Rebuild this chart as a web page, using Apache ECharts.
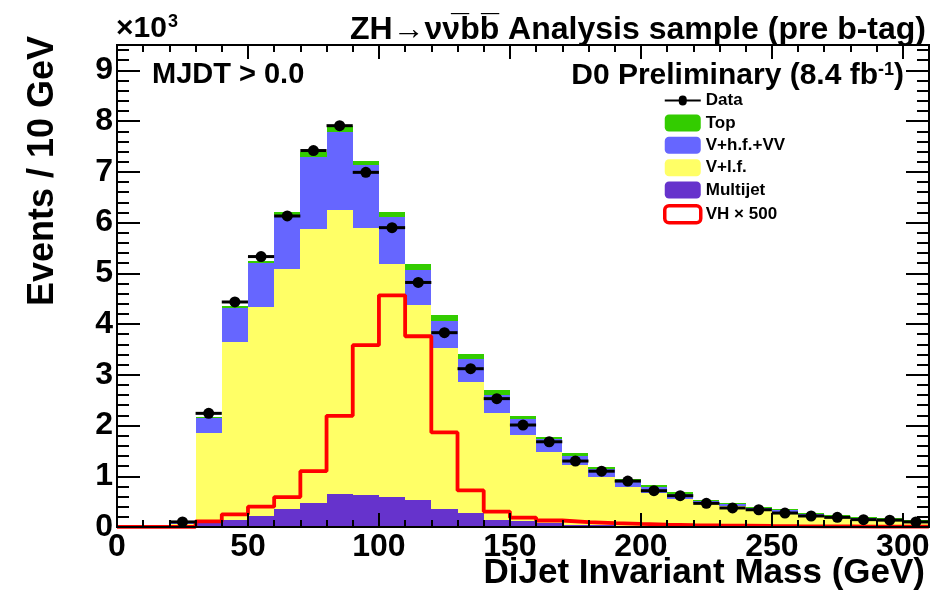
<!DOCTYPE html>
<html><head><meta charset="utf-8">
<script src="https://cdn.jsdelivr.net/npm/echarts@6/dist/echarts.min.js"></script>
<style>html,body{margin:0;padding:0;background:#fff}#c{width:947px;height:590px}</style>
</head><body><div id="c"></div>
<script>
// ---- data (events per 10 GeV bin) ----
const binLow = [0,10,20,30,40,50,60,70,80,90,100,110,120,130,140,150,160,170,180,190,200,210,220,230,240,250,260,270,280,290,300];
const binWidth = 10;
const multijet   = [0,0,5,70,140,210,348,466,650,630,584,531,348,269,145,125,75,45,35,28,22,18,15,12,10,8,7,6,5,4,3];
const vPlusLF    = [0,0,55,1775,3508,4127,4731,5414,5600,5260,4606,3839,3172,2591,2095,1685,1395,1175,945,762,653,542,450,398,330,272,223,194,150,126,102];
const vPlusHFVV  = [0,0,10,295,677,873,1061,1420,1545,1236,920,700,550,447,370,310,256,180,155,135,115,100,45,40,38,50,32,26,27,23,23];
const topQuark   = [0,0,5,20,25,30,70,90,105,94,100,120,100,98,87,65,54,50,40,20,30,20,20,20,17,18,20,17,18,17,17];
const vhTimes500 = [2,2,5,110,250,400,590,1100,2192,3583,4567,3760,1864,720,305,185,128,95,75,60,48,38,30,25,20,16,13,11,9,7,6];
const dataEvents = [null,null,100,2240,4435,5330,6130,7420,7910,6990,5900,4820,3830,3120,2530,2010,1680,1300,1100,905,715,617,466,375,340,275,217,190,145,135,100];
const xMin = 0, xMax = 310, xStep = 50;
const yMin = 0, yMax = 9500, yStep = 1000;

const FONT = "'Liberation Sans', Arial, Helvetica, sans-serif";
const layers = [
  {name: 'Multijet',   values: multijet,  color: '#6633cc'},
  {name: 'V+l.f.',     values: vPlusLF,   color: '#ffff66'},
  {name: 'V+h.f.+VV',  values: vPlusHFVV, color: '#6666ff'},
  {name: 'Top',        values: topQuark,  color: '#33cc00'}
];
// cumulative stacking
const cum = binLow.map(() => 0);
const stackSeries = layers.map(L => {
  const d = binLow.map((x, i) => {
    const lo = cum[i]; cum[i] += L.values[i];
    return [x, x + binWidth, lo, cum[i]];
  });
  return {
    type: 'custom', name: L.name, z: 2,
    data: d, encode: {x: [0, 1], y: [2, 3]},
    itemStyle: {color: L.color},
    renderItem: (params, api) => {
      const a = api.coord([api.value(0), api.value(3)]);
      const b = api.coord([api.value(1), api.value(2)]);
      const x0 = Math.round(a[0]), x1 = Math.round(b[0]);
      const y0 = Math.round(a[1]), y1 = Math.round(b[1]);
      if (y1 - y0 <= 0) return null;
      return {type: 'rect', shape: {x: x0, y: y0, width: x1 - x0, height: y1 - y0},
              style: {fill: L.color}};
    }
  };
});

const vhLine = binLow.map((x, i) => [x, vhTimes500[i]]);
vhLine.push([xMax, vhTimes500[vhTimes500.length - 1]]);

const dataPts = [];
binLow.forEach((x, i) => { if (dataEvents[i] !== null) dataPts.push([x, x + binWidth, dataEvents[i]]); });

const axisCommon = {
  type: 'value', z: 10,
  axisLine: {show: true, onZero: false, lineStyle: {color: '#000', width: 2}},
  splitLine: {show: false}
};

const option = {
  animation: false,
  backgroundColor: '#fff',
  grid: {left: 117, right: 18, top: 45, bottom: 63, containLabel: false, outerBoundsMode: 'none',
         show: true, borderColor: '#000', borderWidth: 2, backgroundColor: 'transparent'},
  xAxis: [
    Object.assign({}, axisCommon, {
      position: 'bottom', min: xMin, max: xMax, interval: xStep,
      axisTick: {show: true, inside: true, length: 14, lineStyle: {color: '#000', width: 2}},
      minorTick: {show: true, splitNumber: 5, length: 7, lineStyle: {color: '#000', width: 2}},
      axisLabel: {show: true, margin: 4, color: '#000', fontSize: 32, fontWeight: 'bold', fontFamily: FONT,
                  showMaxLabel: false}
    }),
    Object.assign({}, axisCommon, {
      position: 'top', min: xMin, max: xMax, interval: xStep,
      axisTick: {show: true, inside: true, length: 14, lineStyle: {color: '#000', width: 2}},
      minorTick: {show: true, splitNumber: 5, length: 7, lineStyle: {color: '#000', width: 2}},
      axisLabel: {show: false}
    })
  ],
  yAxis: [
    Object.assign({}, axisCommon, {
      position: 'left', min: yMin, max: yMax, interval: yStep,
      axisTick: {show: true, inside: true, length: 23, lineStyle: {color: '#000', width: 2}},
      minorTick: {show: true, splitNumber: 5, length: 12, lineStyle: {color: '#000', width: 2}},
      axisLabel: {show: true, margin: 4, color: '#000', fontSize: 32, fontWeight: 'bold', fontFamily: FONT,
                  showMaxLabel: false, formatter: v => String(v / 1000)}
    }),
    Object.assign({}, axisCommon, {
      position: 'right', min: yMin, max: yMax, interval: yStep,
      axisTick: {show: true, inside: true, length: 23, lineStyle: {color: '#000', width: 2}},
      minorTick: {show: true, splitNumber: 5, length: 12, lineStyle: {color: '#000', width: 2}},
      axisLabel: {show: false}
    })
  ],
  legend: {
    orient: 'vertical', left: 663, top: 92, itemWidth: 36, itemHeight: 17, itemGap: 5.4,
    selectedMode: false, padding: 0,
    textStyle: {fontSize: 17, fontWeight: 'bold', fontFamily: FONT, color: '#000', padding: [0, 0, 0, 0]},
    data: [
      {name: 'Data', icon: 'path://M0,4h14a4,4 0 1,1 8,0h14v2h-14a4,4 0 1,1 -8,0h-14z', itemStyle: {color: '#000'}},
      {name: 'Top', icon: 'roundRect', itemStyle: {color: '#33cc00'}},
      {name: 'V+h.f.+VV', icon: 'roundRect', itemStyle: {color: '#6666ff'}},
      {name: 'V+l.f.', icon: 'roundRect', itemStyle: {color: '#ffff66'}},
      {name: 'Multijet', icon: 'roundRect', itemStyle: {color: '#6633cc'}},
      {name: 'VH × 500', icon: 'roundRect', itemStyle: {color: '#ffffff', borderColor: '#ff0000', borderWidth: 3.5}}
    ]
  },
  series: stackSeries.concat([
    {
      type: 'line', name: 'VH × 500', z: 3, data: vhLine, step: 'end', symbol: 'none',
      lineStyle: {color: '#ff0000', width: 3.8}, itemStyle: {color: '#ff0000'}, clip: true
    },
    {
      type: 'custom', name: 'Data', z: 4, data: dataPts, encode: {x: [0, 1], y: 2},
      itemStyle: {color: '#000'},
      renderItem: (params, api) => {
        const a = api.coord([api.value(0), api.value(2)]);
        const b = api.coord([api.value(1), api.value(2)]);
        const cx = (a[0] + b[0]) / 2;
        return {type: 'group', children: [
          {type: 'line', shape: {x1: a[0], y1: a[1], x2: b[0], y2: b[1]}, style: {stroke: '#000', lineWidth: 3}},
          {type: 'circle', shape: {cx: cx, cy: a[1], r: 5.5}, style: {fill: '#000'}}
        ]};
      }
    }
  ]),
  graphic: [
    {type: 'text', x: 116, y: 29, style: {text: '×10{s|3}', fill: '#000', fontSize: 30, fontWeight: 'bold',
      fontFamily: FONT, align: 'left', verticalAlign: 'middle',
      rich: {s: {fontSize: 18, fontWeight: 'bold', fontFamily: FONT, fill: '#000', verticalAlign: 'top', padding: [0, 0, 14, 1]}}}},
    {type: 'text', x: 926, y: 30, style: {text: 'ZH→νν\u0305bb\u0305 Analysis sample (pre b-tag)', fill: '#000',
      fontSize: 32, fontWeight: 'bold', fontFamily: FONT, align: 'right', verticalAlign: 'middle'}},
    {type: 'text', x: 152, y: 75, style: {text: 'MJDT > 0.0', fill: '#000', fontSize: 29, fontWeight: 'bold',
      fontFamily: FONT, align: 'left', verticalAlign: 'middle'}},
    {type: 'text', x: 904, y: 76, style: {text: '{a|D0 Preliminary (8.4 fb}{s|-1}{a|)}', fill: '#000',
      fontSize: 30, fontWeight: 'bold', fontFamily: FONT, align: 'right', verticalAlign: 'middle',
      rich: {a: {fontSize: 30, fontWeight: 'bold', fontFamily: FONT, fill: '#000'},
             s: {fontSize: 18, fontWeight: 'bold', fontFamily: FONT, fill: '#000', verticalAlign: 'top', padding: [0, 0, 12, 0]}}}},
    {type: 'text', x: 925, y: 573, style: {text: 'DiJet Invariant Mass (GeV)', fill: '#000', fontSize: 35,
      fontWeight: 'bold', fontFamily: FONT, align: 'right', verticalAlign: 'middle'}},
    {type: 'text', x: 43, y: 171, rotation: Math.PI / 2, style: {text: 'Events / 10 GeV', fill: '#000', fontSize: 36,
      fontWeight: 'bold', fontFamily: FONT, align: 'center', verticalAlign: 'middle'}}
  ]
};
const chart = echarts.init(document.getElementById('c'), null, {renderer: 'canvas'});
chart.setOption(option);
</script></body></html>
